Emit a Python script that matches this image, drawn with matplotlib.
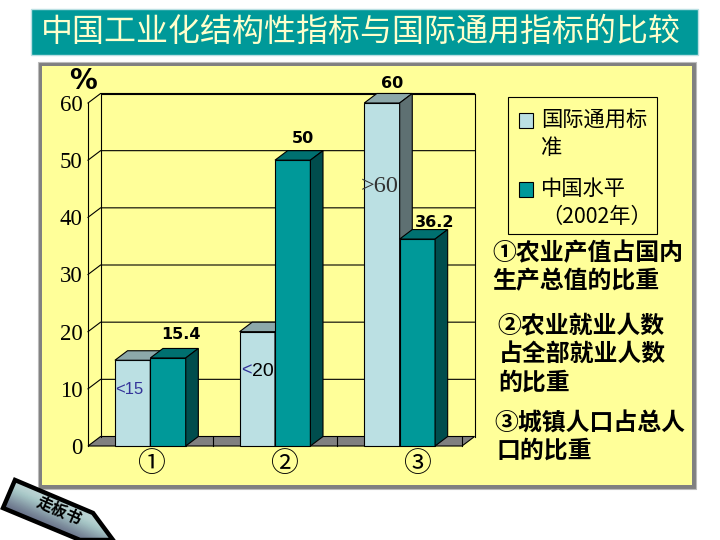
import matplotlib
matplotlib.use("Agg")
import matplotlib.pyplot as plt
import numpy as np
from matplotlib.patches import Polygon, Rectangle

CJK = ["Noto Sans CJK SC", "DejaVu Sans"]
plt.rcParams["font.family"] = CJK

categories = ["①", "②", "③"]
standard = [15, 20, 60]
china = [15.4, 50, 36.2]
yticks = [0, 10, 20, 30, 40, 50, 60]
series_names = ["国际通用标\n准", "中国水平\n（2002年）"]

LIGHT = ("#BBE0E3", "#8CA8AA", "#5E7072")
TEAL = ("#009999", "#007070", "#004D4D")
YELLOW = "#FFFF99"
GREY = "#808080"
LW = 0.8

fig = plt.figure(figsize=(7.2, 5.4), dpi=100, facecolor="white")

# background layer in pixel coordinates
bg = fig.add_axes([0, 0, 1, 1])
bg.set_xlim(0, 720)
bg.set_ylim(540, 0)
bg.axis("off")
bg.add_patch(Rectangle((31, 9), 667, 46, fc="#009999", ec="#BBE0E3", lw=1))
bg.text(361, 32, "中国工业化结构性指标与国际通用指标的比较", color="#FFFFCC",
        fontsize=23, ha="center", va="center")
bg.add_patch(Rectangle((37.5, 61.5), 658.5, 427.5, fc=GREY, ec="#BBBBBB", lw=0.8))
bg.add_patch(Rectangle((42, 66), 650, 419, fc=YELLOW, ec="none"))

# arrow badge at the bottom left
arrow = Polygon([(15, 480), (93, 513), (113, 540), (80, 540), (3, 508)], closed=True,
                fc="none", ec="black", lw=3.2, zorder=3)
bg.add_patch(arrow)
grad = np.array([[0.5], [0.92], [0.6], [0.35]])
img = bg.imshow(grad, extent=(0, 120, 545, 475), cmap="bone", vmin=0, vmax=1,
                interpolation="bicubic", aspect="auto", zorder=2,
                transform=matplotlib.transforms.Affine2D().rotate_deg_around(58, 510, 24) + bg.transData)
img.set_clip_path(Polygon(arrow.get_xy(), transform=bg.transData))
bg.set_xlim(0, 720)
bg.set_ylim(540, 0)
bg.text(59, 511, "走板书", fontsize=11.5, fontweight="black", rotation=-24,
        ha="center", va="center", zorder=4)

# chart: the axes rectangle is the front plane of the 3d box
ax = fig.add_axes([88 / 720, 1 - 446 / 540, 374 / 720, 343 / 540], zorder=2)
ax.patch.set_alpha(0)
ax.set_xlim(0, 3)
ax.set_ylim(0, 60)
for s in ax.spines.values():
    s.set_visible(False)
ax.set_xticks([])
ax.set_yticks(yticks)
ax.set_yticklabels([str(v) for v in yticks], family="Liberation Serif", fontsize=16.5)
ax.tick_params(axis="y", length=0, pad=4)

dx = 12.6 * 3 / 374
dy = 9.5 * 60 / 343
n = len(categories)
line = dict(color="black", lw=LW, clip_on=False)

# back wall and floor
ax.add_patch(Polygon([(0, 0), (n, 0), (n + dx, dy), (dx, dy)], fc=GREY, ec="black", lw=LW, clip_on=False, zorder=1))
ax.plot([dx, dx, n + dx, n + dx], [dy, 60 + dy, 60 + dy, dy], zorder=1, **line)
ax.plot([0, 0], [0, 60], zorder=1, **line)
for v in yticks[1:]:
    ax.plot([0, dx, n + dx], [v, v + dy, v + dy], zorder=1, **line)
for i in range(1, n + 1):
    ax.plot([i, i], [0, dy], zorder=1.5, **line)

width = 35.4 * 3 / 374
centers = np.arange(n) + 0.5


def bars3d(x, values, cols, z):
    ax.bar(x, values, width, color=cols[0], edgecolor="black", lw=LW, zorder=z, clip_on=False)
    for xi, v in zip(x, values):
        l, r = xi - width / 2, xi + width / 2
        ax.add_patch(Polygon([(l, v), (r, v), (r + dx, v + dy), (l + dx, v + dy)],
                             fc=cols[1], ec="black", lw=LW, clip_on=False, zorder=z))
        ax.add_patch(Polygon([(r, 0), (r, v), (r + dx, v + dy), (r + dx, dy)],
                             fc=cols[2], ec="black", lw=LW, clip_on=False, zorder=z))


bars3d(centers - width / 2, standard, LIGHT, 2)
bars3d(centers + width / 2, china, TEAL, 3)

# value labels
label_font = dict(family="DejaVu Sans", fontweight="bold", fontsize=11.5, ha="center",
                  va="center", textcoords="offset pixels", zorder=6, annotation_clip=False)
ax.annotate("15.4", (centers[0] + width / 2, china[0]), xytext=(13, 23), **label_font)
ax.annotate("50", (centers[1] + width / 2, china[1]), xytext=(10, 22), **label_font)
ax.annotate("36.2", (centers[2] + width / 2, china[2]), xytext=(17, 17), **label_font)
ax.annotate("60", (centers[2] - width / 2, standard[2]), xytext=(10, 20), **label_font)

# text and legend that sit over the chart, placed in pixel coordinates
top = fig.add_axes([0, 0, 1, 1], zorder=5)
top.set_xlim(0, 720)
top.set_ylim(540, 0)
top.axis("off")

top.add_patch(Rectangle((508, 97), 149, 137, fc="none", ec="black", lw=LW))
for y, col, name in zip([113, 182], [LIGHT[0], TEAL[0]], series_names):
    top.add_patch(Rectangle((519, y), 14, 15, fc=col, ec="black", lw=LW))
    first, second = name.split("\n")
    top.text(541, y + 7, first, fontsize=15.3, ha="left", va="center")
    top.text(541, y + 35, second, fontsize=15.3, ha="left", va="center")

top.text(83, 81, "%", family="DejaVu Sans", fontweight="bold", fontsize=20, ha="center", va="center")
for x, name in zip([151, 284, 417], categories):
    top.text(x, 464, name, fontsize=20, fontweight="medium", ha="center", va="center")
top.text(129, 390, "<15", color="#333399", family="Liberation Sans", fontsize=12, ha="center", va="center")
top.text(246, 371, "<", color="#333399", family="Liberation Sans", fontsize=13, ha="center", va="center")
top.text(263, 371, "20", color="black", family="Liberation Sans", fontsize=14, ha="center", va="center")
top.text(380, 187, ">60", color="#333333", family="Liberation Serif", fontsize=17.5, ha="center", va="center")

notes = [(492, 253, "①农业产值占国内"), (492, 281, "生产总值的比重"),
         (497, 326, "②农业就业人数"), (499, 354, "占全部就业人数"), (498, 383, "的比重"),
         (494, 424, "③城镇人口占总人"), (496, 451, "口的比重")]
for x, y, s in notes:
    top.text(x, y, s, fontsize=17.2, fontweight="bold", ha="left", va="center")

fig.savefig("out.png", dpi=100)
